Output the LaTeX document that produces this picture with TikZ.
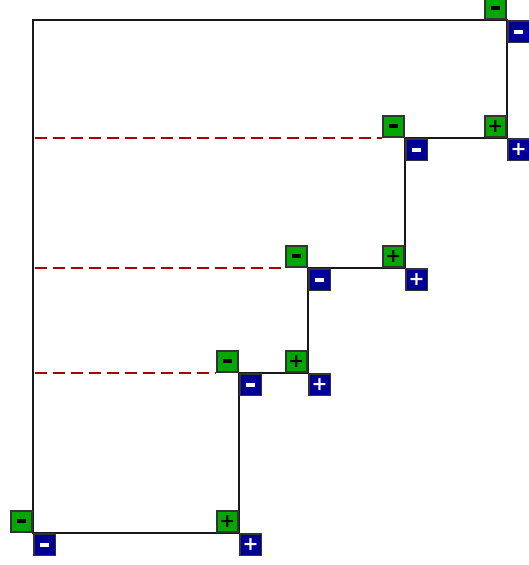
\documentclass[tikz,border=0pt]{standalone}
\usepackage{fontspec}
\setsansfont{DejaVu Sans}
\usepackage{tikz}
\usetikzlibrary{positioning}
\definecolor{posgreen}{RGB}{0,168,0}
\definecolor{negblue}{RGB}{0,0,150}
\definecolor{dashred}{RGB}{170,0,0}
\newcommand{\mns}{\rule{9.5pt}{3.8pt}}
\newcommand{\pls}{\bfseries +}

\begin{document}
\begin{tikzpicture}[x=1pt,y=-1pt]
\tikzset{
  gb/.style={rectangle,draw=black!80,line width=1.8pt,fill=posgreen,minimum size=21.5pt,inner sep=0pt,anchor=south east,font=\sffamily\fontsize{19}{19}\selectfont,text=black},
  bb/.style={rectangle,draw=black!80,line width=1.8pt,fill=negblue,minimum size=21.5pt,inner sep=0pt,anchor=north west,font=\sffamily\fontsize{19}{19}\selectfont,text=white},
  wire/.style={draw=black!90,line width=1.4pt},
  lvl/.style={draw=dashred,line width=2pt,dash pattern=on 12pt off 6pt}
}
\useasboundingbox (0,0) rectangle (528,565);
% corners of the staircase
\coordinate (c1) at (33,20);
\coordinate (c2) at (507,20);
\coordinate (c3) at (507,138);
\coordinate (c4) at (405,138);
\coordinate (c5) at (405,268);
\coordinate (c6) at (308,268);
\coordinate (c7) at (308,373);
\coordinate (c8) at (239,373);
\coordinate (c9) at (239,533);
\coordinate (c10) at (33,533);
\draw[wire] (c1) -- (c2) -- (c3) -- (c4) -- (c5) -- (c6) -- (c7) -- (c8) -- (c9) -- (c10) -- cycle;
% terminals
\node[gb] (g2) at (c2) {\mns};   \node[bb] (b2) at (c2) {\mns};
\node[gb] (g3) at (c3) {\pls};   \node[bb] (b3) at (c3) {\pls};
\node[gb] (g4) at (c4) {\mns};   \node[bb] (b4) at (c4) {\mns};
\node[gb] (g5) at (c5) {\pls};   \node[bb] (b5) at (c5) {\pls};
\node[gb] (g6) at (c6) {\mns};   \node[bb] (b6) at (c6) {\mns};
\node[gb] (g7) at (c7) {\pls};   \node[bb] (b7) at (c7) {\pls};
\node[gb] (g8) at (c8) {\mns};   \node[bb] (b8) at (c8) {\mns};
\node[gb] (g9) at (c9) {\pls};   \node[bb] (b9) at (c9) {\pls};
\node[gb] (g10) at (c10) {\mns}; \node[bb] (b10) at (c10) {\mns};
% dashed levels
\coordinate (l4) at (35,138);
\coordinate (l6) at (35,268);
\coordinate (l8) at (35,373);
\draw[lvl] (l4) -- (g4.south west);
\draw[lvl] (l6) -- (g6.south west);
\draw[lvl] (l8) -- (g8.south west);
\end{tikzpicture}
\end{document}
